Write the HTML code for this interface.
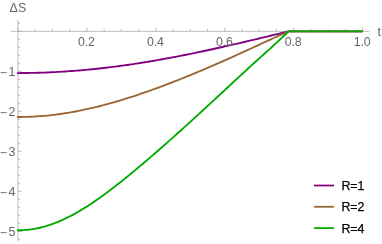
<!DOCTYPE html><html><head><meta charset="utf-8"><style>html,body{margin:0;padding:0;background:#fff;overflow:hidden}svg{display:block;will-change:transform}text{font-family:"Liberation Sans",sans-serif}</style></head><body>
<svg width="382" height="244" viewBox="0 0 382 244">
<rect width="382" height="244" fill="#fff"/>
<g stroke="#a0a0a0" stroke-width="0.7" fill="none" shape-rendering="auto">
<path d="M10.8 31.35 H369.5"/>
<path d="M18.00 20 V241.5"/>
<path d="M18.00 31.35 v-3.7 M35.23 31.35 v-2.3 M52.46 31.35 v-2.3 M69.69 31.35 v-2.3 M86.92 31.35 v-3.7 M104.15 31.35 v-2.3 M121.38 31.35 v-2.3 M138.61 31.35 v-2.3 M155.84 31.35 v-3.7 M173.07 31.35 v-2.3 M190.30 31.35 v-2.3 M207.53 31.35 v-2.3 M224.76 31.35 v-3.7 M241.99 31.35 v-2.3 M259.22 31.35 v-2.3 M276.45 31.35 v-2.3 M293.68 31.35 v-3.7 M310.91 31.35 v-2.3 M328.14 31.35 v-2.3 M345.37 31.35 v-2.3 M362.60 31.35 v-3.7 M18.00 239.35 h2.2 M18.00 231.35 h3.7 M18.00 223.35 h2.2 M18.00 215.35 h2.2 M18.00 207.35 h2.2 M18.00 199.35 h2.2 M18.00 191.35 h3.7 M18.00 183.35 h2.2 M18.00 175.35 h2.2 M18.00 167.35 h2.2 M18.00 159.35 h2.2 M18.00 151.35 h3.7 M18.00 143.35 h2.2 M18.00 135.35 h2.2 M18.00 127.35 h2.2 M18.00 119.35 h2.2 M18.00 111.35 h3.7 M18.00 103.35 h2.2 M18.00 95.35 h2.2 M18.00 87.35 h2.2 M18.00 79.35 h2.2 M18.00 71.35 h3.7 M18.00 63.35 h2.2 M18.00 55.35 h2.2 M18.00 47.35 h2.2 M18.00 39.35 h2.2 M18.00 31.35 h3.7 M18.00 23.35 h2.2"/>
</g>
<g fill="none" stroke-width="1.85" stroke-linejoin="round">
<path d="M17.00 73.05 L19.28 73.05 L21.57 73.04 L23.85 73.03 L26.13 73.00 L28.41 72.97 L30.70 72.94 L32.98 72.89 L35.26 72.84 L37.54 72.78 L39.83 72.72 L42.11 72.64 L44.39 72.56 L46.68 72.47 L48.96 72.38 L51.24 72.28 L53.52 72.17 L55.81 72.05 L58.09 71.93 L60.37 71.80 L62.66 71.66 L64.94 71.51 L67.22 71.36 L69.50 71.20 L71.79 71.03 L74.07 70.86 L76.35 70.68 L78.63 70.49 L80.92 70.30 L83.20 70.10 L85.48 69.89 L87.77 69.68 L90.05 69.46 L92.33 69.23 L94.61 69.00 L96.90 68.75 L99.18 68.51 L101.46 68.25 L103.74 67.99 L106.03 67.73 L108.31 67.45 L110.59 67.17 L112.88 66.89 L115.16 66.59 L117.44 66.30 L119.72 65.99 L122.01 65.68 L124.29 65.36 L126.57 65.04 L128.86 64.71 L131.14 64.38 L133.42 64.04 L135.70 63.69 L137.99 63.34 L140.27 62.98 L142.55 62.62 L144.83 62.25 L147.12 61.88 L149.40 61.50 L151.68 61.12 L153.97 60.73 L156.25 60.33 L158.53 59.93 L160.81 59.53 L163.10 59.12 L165.38 58.70 L167.66 58.28 L169.94 57.86 L172.23 57.43 L174.51 57.00 L176.79 56.56 L179.08 56.12 L181.36 55.67 L183.64 55.22 L185.92 54.76 L188.21 54.31 L190.49 53.84 L192.77 53.37 L195.06 52.90 L197.34 52.43 L199.62 51.95 L201.90 51.47 L204.19 50.98 L206.47 50.49 L208.75 50.00 L211.03 49.51 L213.32 49.01 L215.60 48.50 L217.88 48.00 L220.17 47.49 L222.45 46.98 L224.73 46.47 L227.01 45.95 L229.30 45.43 L231.58 44.91 L233.86 44.39 L236.14 43.86 L238.43 43.33 L240.71 42.80 L242.99 42.27 L245.28 41.74 L247.56 41.20 L249.84 40.66 L252.12 40.12 L254.41 39.58 L256.69 39.04 L258.97 38.50 L261.26 37.95 L263.54 37.41 L265.82 36.86 L268.10 36.31 L270.39 35.76 L272.67 35.21 L274.95 34.66 L277.23 34.11 L279.52 33.56 L281.80 33.01 L284.08 32.45 L286.37 31.90 L288.65 31.35 L362.60 31.35" stroke="#800080"/>
<path d="M17.00 116.99 L19.28 116.99 L21.57 116.97 L23.85 116.94 L26.13 116.88 L28.41 116.81 L30.70 116.72 L32.98 116.61 L35.26 116.49 L37.54 116.34 L39.83 116.18 L42.11 116.00 L44.39 115.81 L46.68 115.59 L48.96 115.36 L51.24 115.12 L53.52 114.85 L55.81 114.57 L58.09 114.27 L60.37 113.96 L62.66 113.63 L64.94 113.28 L67.22 112.92 L69.50 112.54 L71.79 112.14 L74.07 111.73 L76.35 111.31 L78.63 110.86 L80.92 110.41 L83.20 109.94 L85.48 109.45 L87.77 108.95 L90.05 108.44 L92.33 107.91 L94.61 107.37 L96.90 106.81 L99.18 106.24 L101.46 105.66 L103.74 105.07 L106.03 104.46 L108.31 103.84 L110.59 103.21 L112.88 102.56 L115.16 101.91 L117.44 101.24 L119.72 100.56 L122.01 99.87 L124.29 99.17 L126.57 98.46 L128.86 97.74 L131.14 97.01 L133.42 96.27 L135.70 95.52 L137.99 94.76 L140.27 93.99 L142.55 93.21 L144.83 92.42 L147.12 91.62 L149.40 90.82 L151.68 90.00 L153.97 89.18 L156.25 88.35 L158.53 87.52 L160.81 86.67 L163.10 85.82 L165.38 84.96 L167.66 84.09 L169.94 83.21 L172.23 82.33 L174.51 81.44 L176.79 80.55 L179.08 79.65 L181.36 78.74 L183.64 77.82 L185.92 76.90 L188.21 75.98 L190.49 75.04 L192.77 74.11 L195.06 73.16 L197.34 72.21 L199.62 71.25 L201.90 70.29 L204.19 69.33 L206.47 68.35 L208.75 67.38 L211.03 66.39 L213.32 65.41 L215.60 64.41 L217.88 63.42 L220.17 62.41 L222.45 61.41 L224.73 60.40 L227.01 59.38 L229.30 58.36 L231.58 57.34 L233.86 56.31 L236.14 55.28 L238.43 54.24 L240.71 53.20 L242.99 52.16 L245.28 51.12 L247.56 50.07 L249.84 49.02 L252.12 47.97 L254.41 46.92 L256.69 45.87 L258.97 44.81 L261.26 43.76 L263.54 42.71 L265.82 41.66 L268.10 40.61 L270.39 39.56 L272.67 38.51 L274.95 37.47 L277.23 36.43 L279.52 35.40 L281.80 34.38 L284.08 33.36 L286.37 32.35 L288.65 31.35 L362.60 31.35" stroke="#996633"/>
<path d="M17.00 230.30 L19.28 230.29 L21.57 230.23 L23.85 230.12 L26.13 229.94 L28.41 229.71 L30.70 229.43 L32.98 229.08 L35.26 228.69 L37.54 228.23 L39.83 227.73 L42.11 227.16 L44.39 226.55 L46.68 225.88 L48.96 225.16 L51.24 224.39 L53.52 223.57 L55.81 222.70 L58.09 221.79 L60.37 220.82 L62.66 219.81 L64.94 218.75 L67.22 217.65 L69.50 216.50 L71.79 215.31 L74.07 214.09 L76.35 212.82 L78.63 211.51 L80.92 210.17 L83.20 208.78 L85.48 207.37 L87.77 205.92 L90.05 204.44 L92.33 202.92 L94.61 201.38 L96.90 199.81 L99.18 198.21 L101.46 196.58 L103.74 194.93 L106.03 193.25 L108.31 191.55 L110.59 189.83 L112.88 188.09 L115.16 186.33 L117.44 184.55 L119.72 182.75 L122.01 180.93 L124.29 179.10 L126.57 177.26 L128.86 175.39 L131.14 173.52 L133.42 171.63 L135.70 169.73 L137.99 167.82 L140.27 165.90 L142.55 163.97 L144.83 162.03 L147.12 160.08 L149.40 158.12 L151.68 156.15 L153.97 154.18 L156.25 152.19 L158.53 150.20 L160.81 148.20 L163.10 146.20 L165.38 144.19 L167.66 142.17 L169.94 140.15 L172.23 138.12 L174.51 136.08 L176.79 134.04 L179.08 132.00 L181.36 129.94 L183.64 127.89 L185.92 125.82 L188.21 123.76 L190.49 121.68 L192.77 119.60 L195.06 117.52 L197.34 115.43 L199.62 113.34 L201.90 111.25 L204.19 109.15 L206.47 107.04 L208.75 104.93 L211.03 102.82 L213.32 100.71 L215.60 98.60 L217.88 96.48 L220.17 94.36 L222.45 92.24 L224.73 90.12 L227.01 88.00 L229.30 85.89 L231.58 83.77 L233.86 81.65 L236.14 79.54 L238.43 77.43 L240.71 75.32 L242.99 73.22 L245.28 71.12 L247.56 69.03 L249.84 66.94 L252.12 64.86 L254.41 62.78 L256.69 60.71 L258.97 58.64 L261.26 56.57 L263.54 54.51 L265.82 52.45 L268.10 50.39 L270.39 48.32 L272.67 46.26 L274.95 44.18 L277.23 42.10 L279.52 40.00 L281.80 37.88 L284.08 35.74 L286.37 33.56 L288.65 31.35 L362.60 31.35" stroke="#00aa00"/>
</g>
<g fill="#666666" font-size="12.4">
<text transform="translate(86.47,45.90) scale(1.0,1)" text-anchor="middle" letter-spacing="-0.15">0.2</text>
<text transform="translate(155.39,45.90) scale(1.0,1)" text-anchor="middle" letter-spacing="-0.15">0.4</text>
<text transform="translate(224.31,45.90) scale(1.0,1)" text-anchor="middle" letter-spacing="-0.15">0.6</text>
<text transform="translate(293.23,45.90) scale(1.0,1)" text-anchor="middle" letter-spacing="-0.15">0.8</text>
<text transform="translate(362.15,45.90) scale(1.0,1)" text-anchor="middle" letter-spacing="-0.15">1.0</text>
<text transform="translate(-0.20,76.85) scale(1.0,1)">−</text><text transform="translate(15.45,76.15) scale(1.0,1)" text-anchor="end">1</text>
<text transform="translate(-0.20,116.85) scale(1.0,1)">−</text><text transform="translate(15.45,116.15) scale(1.0,1)" text-anchor="end">2</text>
<text transform="translate(-0.20,156.85) scale(1.0,1)">−</text><text transform="translate(15.45,156.15) scale(1.0,1)" text-anchor="end">3</text>
<text transform="translate(-0.20,196.85) scale(1.0,1)">−</text><text transform="translate(15.45,196.15) scale(1.0,1)" text-anchor="end">4</text>
<text transform="translate(-0.20,236.85) scale(1.0,1)">−</text><text transform="translate(15.45,236.15) scale(1.0,1)" text-anchor="end">5</text>
<text transform="translate(9.6,11.9) scale(1.0,1)">ΔS</text>
<text transform="translate(377.5,35.7) scale(1.0,1)">t</text>
</g>
<g fill="none" stroke-width="1.75">
<path d="M314 185.50 H334" stroke="#800080"/>
<path d="M314 206.80 H334" stroke="#996633"/>
<path d="M314 228.10 H334" stroke="#00aa00"/>
</g>
<g fill="#000000" stroke="#000000" stroke-width="0.25" font-size="12.4">
<text x="341.4" y="189.90">R=1</text>
<text x="341.4" y="211.20">R=2</text>
<text x="341.4" y="232.50">R=4</text>
</g>
</svg></body></html>
